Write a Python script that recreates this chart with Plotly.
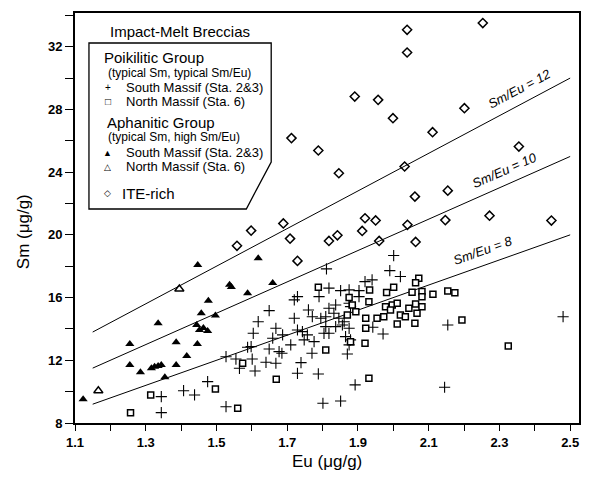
import plotly.graph_objects as go

# ---------------- data ----------------
# Poikilitic group, South Massif (Sta. 2&3)  -> crosses
poi_s_eu = [1.649, 1.618, 1.604, 1.668, 1.659, 1.588, 1.598, 1.649, 1.527, 1.555, 1.601, 1.640, 1.668,
            1.565, 1.609, 1.475, 1.407, 1.438, 1.344, 1.527, 1.344,
            2.001, 1.811, 1.990, 2.020, 1.940, 1.920, 1.818, 1.790, 1.851, 1.875, 1.903, 1.903, 1.729,
            1.720, 1.760, 1.837, 1.818, 1.875, 1.879, 1.771, 1.795, 1.809, 1.832, 1.846, 1.861, 1.720,
            1.729, 1.743, 1.757, 1.809, 1.818, 1.804, 1.837, 1.856, 1.875, 1.942, 1.865, 1.879, 1.875,
            1.687, 1.710, 1.748, 1.776, 1.677, 1.685, 1.770, 1.870, 1.739, 1.729, 1.788, 1.971, 1.892,
            1.801, 1.851, 2.145, 2.154, 2.480]
poi_s_sm = [15.17, 14.46, 13.72, 14.04, 13.41, 12.83, 12.87, 12.72, 12.23, 12.08, 12.08, 11.87, 11.81,
            11.49, 11.32, 10.64, 10.06, 9.79, 9.68, 9.04, 8.66,
            18.68, 17.83, 17.72, 17.34, 17.13, 17.02, 16.60, 16.06, 16.44, 16.49, 16.44, 16.06, 16.06,
            15.85, 15.21, 15.53, 15.32, 15.64, 15.42, 14.78, 14.68, 14.78, 15.00, 14.68, 14.46, 14.68,
            13.93, 13.83, 13.62, 14.15, 13.72, 13.72, 14.15, 14.25, 14.04, 14.11, 13.51, 13.30, 12.98,
            13.62, 12.98, 13.30, 13.19, 12.55, 12.45, 12.45, 12.40, 11.85, 11.17, 11.13, 13.68, 10.43,
            9.26, 9.40, 10.28, 14.25, 14.78]

# Poikilitic group, North Massif (Sta. 6)  -> open squares
poi_n_eu = [1.314, 1.497, 1.257, 1.560, 1.669, 1.574, 1.788, 2.072, 2.063, 2.154, 2.174, 2.112, 2.081,
            2.053, 2.001, 1.981, 1.933, 1.931, 1.884, 1.875, 1.894, 1.870, 1.922, 1.922, 1.978, 1.997,
            2.011, 1.992, 1.973, 1.954, 2.020, 2.011, 2.044, 2.063, 2.067, 2.081, 2.061, 2.034, 2.081,
            2.194, 1.879, 1.920, 1.809, 1.931, 2.325]
poi_n_sm = [9.79, 10.17, 8.66, 8.94, 10.79, 11.81, 16.66, 17.23, 16.95, 16.42, 16.30, 16.21, 16.38,
            16.34, 16.66, 16.32, 16.49, 15.74, 15.53, 16.00, 15.10, 14.89, 14.68, 14.04, 15.42, 15.53,
            15.64, 15.21, 14.78, 14.68, 14.89, 14.32, 15.32, 15.59, 15.00, 15.42, 14.36, 14.78, 16.06,
            14.57, 13.19, 13.09, 12.66, 10.85, 12.91]

# Aphanitic group, South Massif (Sta. 2&3)  -> filled triangles
aph_s_eu = [1.447, 1.618, 1.537, 1.542, 1.659, 1.588, 1.477, 1.457, 1.497, 1.335, 1.444, 1.452, 1.463,
            1.475, 1.446, 1.386, 1.255, 1.416, 1.255, 1.285, 1.316, 1.325, 1.335, 1.344, 1.386, 1.354,
            1.123]
aph_s_sm = [18.08, 18.50, 16.81, 16.68, 16.93, 16.28, 15.80, 15.00, 14.85, 14.36, 14.25, 13.93, 14.06,
            13.87, 13.04, 13.15, 13.04, 12.28, 11.70, 11.24, 11.49, 11.59, 11.64, 11.70, 11.70, 10.92,
            9.51]

# Aphanitic group, North Massif (Sta. 6)  -> open triangles
aph_n_eu = [1.395, 1.166]
aph_n_sm = [16.55, 10.06]

# ITE-rich  -> open diamonds
ite_eu = [2.039, 2.039, 2.253, 1.891, 1.957, 1.999, 2.111, 2.201, 1.712, 1.788, 1.846, 2.032, 2.355,
          2.061, 2.154, 1.920, 1.950, 1.689, 1.708, 1.818, 1.842, 1.912, 1.960, 2.040, 2.063, 2.147,
          2.272, 2.447, 1.558, 1.598, 1.729]
ite_sm = [33.08, 31.63, 33.51, 28.82, 28.61, 27.44, 26.55, 28.08, 26.17, 25.38, 23.93, 24.36, 25.63,
          22.44, 22.82, 21.06, 20.92, 20.73, 19.76, 19.61, 19.97, 20.25, 19.61, 20.64, 19.55, 20.94,
          21.22, 20.91, 19.30, 20.27, 18.34]

# constant Sm/Eu reference lines
ratios = [8, 10, 12]
ratio_eu_span = [1.15, 2.50]
ratio_label_eu = [2.27, 2.33, 2.375]

x_tick_vals = [1.1, 1.3, 1.5, 1.7, 1.9, 2.1, 2.3, 2.5]
x_tick_text = ["1.1", "1.3", "1.5", "1.7", "1.9", "2.1", "2.3", "2.5"]
y_tick_vals = [8, 12, 16, 20, 24, 28, 32]
y_tick_text = ["8", "12", "16", "20", "24", "28", "32"]

# ---------------- layout geometry ----------------
W, H = 592, 483
ML, MR, MT, MB = 75, 11, 13, 60
PW, PH = W - ML - MR, H - MT - MB
X_RANGE = [1.1, 2.525]
Y_RANGE = [8, 34.15]

def px(x):
    return (x - ML) / PW

def py(y):
    return (H - MB - y) / PH

FONT = "Liberation Sans, Arial, Helvetica, sans-serif"

fig = go.Figure()

for k in ratios:
    fig.add_trace(go.Scatter(
        x=ratio_eu_span, y=[k * e for e in ratio_eu_span], mode="lines",
        line=dict(color="black", width=1), hoverinfo="skip", showlegend=False))

fig.add_trace(go.Scatter(x=poi_s_eu, y=poi_s_sm, mode="markers", showlegend=False,
                         marker=dict(symbol="cross-thin-open", size=8, color="black",
                                     line=dict(color="black", width=1.1))))
fig.add_trace(go.Scatter(x=poi_n_eu, y=poi_n_sm, mode="markers", showlegend=False,
                         marker=dict(symbol="square", size=6, color="white",
                                     line=dict(color="black", width=1.5))))
fig.add_trace(go.Scatter(x=aph_s_eu, y=aph_s_sm, mode="markers", showlegend=False,
                         marker=dict(symbol="triangle-up", size=8, color="black", line=dict(width=0))))
fig.add_trace(go.Scatter(x=aph_n_eu, y=aph_n_sm, mode="markers", showlegend=False,
                         marker=dict(symbol="triangle-up-open", size=8, color="black",
                                     line=dict(color="black", width=1.4))))
fig.add_trace(go.Scatter(x=ite_eu, y=ite_sm, mode="markers", showlegend=False,
                         marker=dict(symbol="diamond-open", size=7, color="black",
                                     line=dict(color="black", width=1.5))))

annotations = []
# ratio labels
line_angle = {8: -19.5, 10: -23.8, 12: -27.9}
for k, e in zip(ratios, ratio_label_eu):
    annotations.append(dict(x=e, y=k * e, xref="x", yref="y", text=f"<i>Sm/Eu = {k}</i>",
                            showarrow=False, textangle=line_angle[k], yshift=13, xshift=-6,
                            font=dict(family=FONT, size=13, color="black")))

# legend box
box = [(89, 43), (272, 43), (272, 162), (247, 209), (89, 209)]
path = "M " + " L ".join(f"{px(a):.4f},{py(b):.4f}" for a, b in box) + " Z"
shapes = [dict(type="path", xref="paper", yref="paper", path=path,
               line=dict(color="black", width=1.3), fillcolor="white", layer="below")]

def txt(x, y, s, size, anchor="left"):
    annotations.append(dict(x=px(x), y=py(y), xref="paper", yref="paper", text=s,
                            xanchor=anchor, yanchor="middle", showarrow=False,
                            font=dict(family=FONT, size=size, color="black")))

txt(180, 31.5, "Impact-Melt Breccias", 15, "center")
txt(102, 57.5, "Poikilitic Group", 15)
txt(106, 72.5, "(typical Sm, typical Sm/Eu)", 12)
txt(108, 87.5, "+", 10, "center")
txt(124, 87.5, "South Massif (Sta. 2&3)", 13)
txt(108, 101.5, "\u25a1", 10, "center")
txt(124, 101.5, "North Massif (Sta. 6)", 13)
txt(105, 122, "Aphanitic Group", 15)
txt(106, 137, "(typical Sm, high Sm/Eu)", 12)
txt(108, 152.5, "\u25b2", 9, "center")
txt(124, 152.5, "South Massif (Sta. 2&3)", 13)
txt(108, 166.5, "\u25b3", 9, "center")
txt(124, 166.5, "North Massif (Sta. 6)", 13)
txt(108, 193.5, "\u25c7", 9, "center")
txt(120, 193.5, "ITE-rich", 15)

# axis titles
annotations.append(dict(x=px(23), y=py(232), xref="paper", yref="paper", text="Sm (\u03bcg/g)",
                        textangle=-90, showarrow=False, xanchor="center", yanchor="middle",
                        font=dict(family=FONT, size=17, color="black")))
annotations.append(dict(x=px(328), y=py(461), xref="paper", yref="paper", text="Eu (\u03bcg/g)",
                        showarrow=False, xanchor="center", yanchor="middle",
                        font=dict(family=FONT, size=17, color="black")))

axis_common = dict(showgrid=False, zeroline=False, showline=True, mirror=True, linecolor="black",
                   linewidth=2, ticks="outside", tickcolor="black", tickwidth=1.3,
                   tickfont=dict(family=FONT, size=13, color="black", weight="bold"))

fig.update_layout(
    width=W, height=H, margin=dict(l=ML, r=MR, t=MT, b=MB),
    paper_bgcolor="white", plot_bgcolor="white",
    xaxis=dict(range=X_RANGE, tickvals=x_tick_vals, ticktext=x_tick_text, ticklen=6,
               minor=dict(dtick=0.1, tick0=1.1, ticks="outside", ticklen=6, tickcolor="black", tickwidth=1.3),
               **axis_common),
    yaxis=dict(range=Y_RANGE, tickvals=y_tick_vals, ticktext=y_tick_text, ticklen=8,
               minor=dict(dtick=2, tick0=8, ticks="outside", ticklen=8, tickcolor="black", tickwidth=1.3),
               **axis_common),
    annotations=annotations, shapes=shapes, showlegend=False,
)

fig.write_html("out.html")
